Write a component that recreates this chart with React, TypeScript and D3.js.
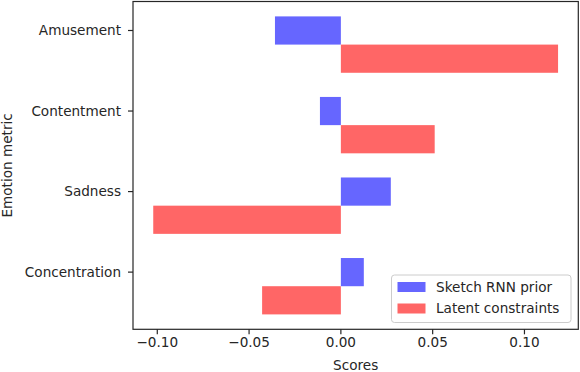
import React from "react";
import * as d3 from "d3";

const categories = ["Amusement", "Contentment", "Sadness", "Concentration"];
const sketchRnn = [-0.0359, -0.0114, 0.0272, 0.0125];
const latent = [0.1183, 0.0511, -0.1022, -0.0429];
const xTicks = [-0.1, -0.05, 0, 0.05, 0.1];
const seriesNames = ["Sketch RNN prior", "Latent constraints"];

const W = 580;
const H = 372;
const left = 133, right = 578.3, top = 1.5, bottom = 329.3;
const barH = 0.35;
const font = "DejaVu Sans, sans-serif";
const ink = "#262626";
const fs = 13.6;

export default function App() {
  const n = categories.length;
  // position of each category: top one is highest
  const pos = (i: number) => n - 1 - i;

  const all = [...sketchRnn, ...latent, 0];
  const xmin = d3.min(all)!, xmax = d3.max(all)!;
  const xpad = (xmax - xmin) * 0.05;
  const x = d3.scaleLinear().domain([xmin - xpad, xmax + xpad]).range([left, right]);

  const ylo = -barH - barH / 2, yhi = n - 1 + barH / 2;
  const ypad = (yhi - ylo) * 0.05;
  const y = d3.scaleLinear().domain([ylo - ypad, yhi + ypad]).range([bottom, top]);

  const fmt = d3.format(".2f");

  const bar = (v: number, c: number, key: string, color: string) => {
    const x0 = x(Math.min(0, v)), x1 = x(Math.max(0, v));
    const y0 = y(c + barH / 2), y1 = y(c - barH / 2);
    return <rect key={key} x={x0} y={y0} width={x1 - x0} height={y1 - y0} fill={color} />;
  };

  return (
    <svg width={W} height={H} style={{ position: "absolute", left: 0, top: 0 }} fontFamily={font}>
      <rect width={W} height={H} fill="white" />
      {categories.map((c, i) => bar(sketchRnn[i], pos(i), "b" + i, "#6666ff"))}
      {categories.map((c, i) => bar(latent[i], pos(i) - barH, "r" + i, "#ff6666"))}

      <rect x={left} y={top} width={right - left} height={bottom - top} fill="none" stroke={ink} strokeWidth={1.2} />

      {xTicks.map((t) => (
        <g key={t} transform={`translate(${x(t)},${bottom})`}>
          <line y2={5} stroke={ink} strokeWidth={1.2} />
          <text y={17.5} textAnchor="middle" fontSize={fs} fill={ink}>{fmt(t)}</text>
        </g>
      ))}
      {categories.map((c, i) => (
        <g key={c} transform={`translate(${left},${y(pos(i))})`}>
          <line x2={-5} stroke={ink} strokeWidth={1.2} />
          <text x={-12} dy="0.35em" textAnchor="end" fontSize={fs} fill={ink}>{c}</text>
        </g>
      ))}

      <text x={(left + right) / 2} y={370} textAnchor="middle" fontSize={fs} fill={ink}>Scores</text>
      <text transform={`translate(11.5,${(top + bottom) / 2}) rotate(-90)`} textAnchor="middle" fontSize={fs} fill={ink}>Emotion metric</text>

      <g transform="translate(391.5,275)">
        <rect width={179.5} height={47.5} rx={3} fill="white" fillOpacity={0.8} stroke="#cccccc" />
        {seriesNames.map((s, i) => (
          <g key={s} transform={`translate(0,${i * 21.5})`}>
            <rect x={6} y={7} width={28} height={10} fill={i === 0 ? "#6666ff" : "#ff6666"} />
            <text x={44.5} y={12} dy="0.35em" fontSize={fs} fill={ink}>{s}</text>
          </g>
        ))}
      </g>
    </svg>
  );
}
